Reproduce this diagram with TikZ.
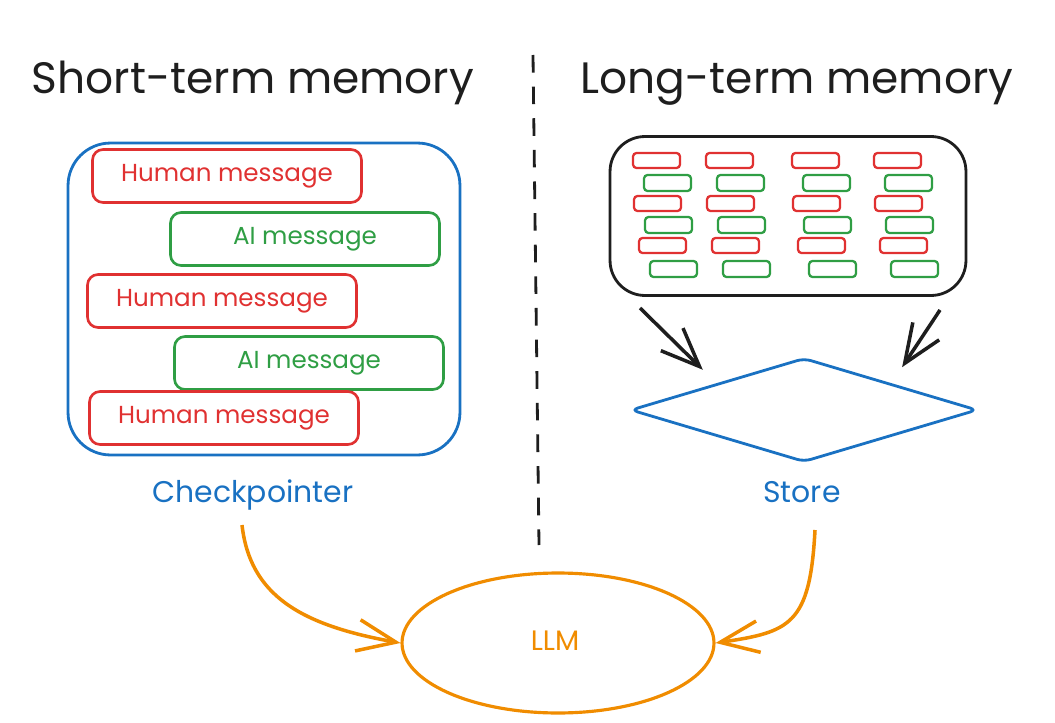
\documentclass[tikz,border=0pt]{standalone}
\usepackage{fontspec}
\setmainfont{Poppins}
\usetikzlibrary{arrows.meta}
\usetikzlibrary{shapes,positioning}
\definecolor{penBlack}{HTML}{1E1E1E}
\definecolor{penRed}{HTML}{E03131}
\definecolor{penGreen}{HTML}{2F9E44}
\definecolor{penBlue}{HTML}{1971C2}
\definecolor{penOrange}{HTML}{F08C00}
\tikzset{>={Straight Barb[length=22pt,width=18pt]}}
\tikzset{
  humanMsg/.style={draw=penRed,text=penRed,line width=1.5pt,rounded corners=6pt,
    minimum width=5.38cm,minimum height=1.06cm,font=\fontsize{14}{16}\selectfont},
  aiMsg/.style={humanMsg,draw=penGreen,text=penGreen},
  titleText/.style={anchor=base,text=penBlack,font=\fontsize{25}{30}\selectfont},
  labelText/.style={anchor=base,text=penBlue,font=\fontsize{17}{20}\selectfont},
  redSlip/.style={penRed,line width=1.3pt,rounded corners=2pt},
  greenSlip/.style={penGreen,line width=1.3pt,rounded corners=2pt},
  orangeArrow/.style={penOrange,line width=2pt,->},
  blackArrow/.style={penBlack,line width=2pt,->}
}

\begin{document}
\begin{tikzpicture}[x=0.02cm,y=-0.02cm]
      \useasboundingbox (0,0) rectangle (1055,723);
      % titles and divider
      \node [titleText] (stmTitle) at (253,94) {Short-term memory};
      \node [titleText] (ltmTitle) at (797,94) {Long-term memory};
      \coordinate (divTop) at (533,55);
      \coordinate (divBot) at (539,545);
      \draw [penBlack,line width=1.6pt,dash pattern=on 10pt off 8pt] (divTop) -- (divBot);
      % checkpointer
      \node [draw=penBlue,line width=1.6pt,rounded corners=0.85cm,minimum width=7.84cm,minimum height=6.24cm] (chkBox) at (264,299) {};
      \node [humanMsg] (human1) at (227,176) {Human message};
      \node [aiMsg] (ai1) at (305,239) {AI message};
      \node [humanMsg] (human2) at (222,301) {Human message};
      \node [aiMsg] (ai2) at (309,363) {AI message};
      \node [humanMsg] (human3) at (224,418) {Human message};
      \node [labelText] (chkLabel) at (253,502) {Checkpointer};
      % store
      \node [draw=penBlack,line width=1.6pt,rounded corners=0.7cm,minimum width=7.12cm,minimum height=3.18cm] (memBox) at (788,216) {};
      \foreach \cx in {633,706,792,874} {
        \foreach \dx/\ry in {0/153,1/196,6/238}
          \draw [redSlip] (\cx+\dx,\ry) rectangle ++(47,15);
        \foreach \dx/\gy in {11/175,12/217,17/261}
          \draw [greenSlip] (\cx+\dx,\gy) rectangle ++(47,16);
      }
      \node [diamond,draw=penBlue,line width=1.6pt,rounded corners=4pt,inner sep=0pt,minimum width=6.94cm,minimum height=2.08cm] (store) at (804,410) {};
      \node [labelText] (storeLabel) at (802,502) {Store};
      \coordinate (tailL) at (640,308);
      \coordinate (tailR) at (940,310);
      \draw [blackArrow,shorten >=11pt] (tailL) -- (store.north west);
      \draw [blackArrow,shorten >=11pt] (tailR) -- (store.north east);
      % llm
      \node [ellipse,draw=penOrange,line width=1.8pt,inner sep=0pt,minimum width=6.24cm,minimum height=2.8cm] (llm) at (558,643) {};
      \node [anchor=base,text=penOrange,font=\fontsize{16}{18}\selectfont] (llmText) at (555,650) {LLM};
      \coordinate (chkTail) at (242,525);
      \coordinate (storeTail) at (815,530);
      \draw [orangeArrow] (chkTail) .. controls (250,595) and (300,625) .. (llm.west);
      \draw [orangeArrow] (storeTail) .. controls (810,625) and (790,632) .. (llm.east);
    \end{tikzpicture}
\end{document}
